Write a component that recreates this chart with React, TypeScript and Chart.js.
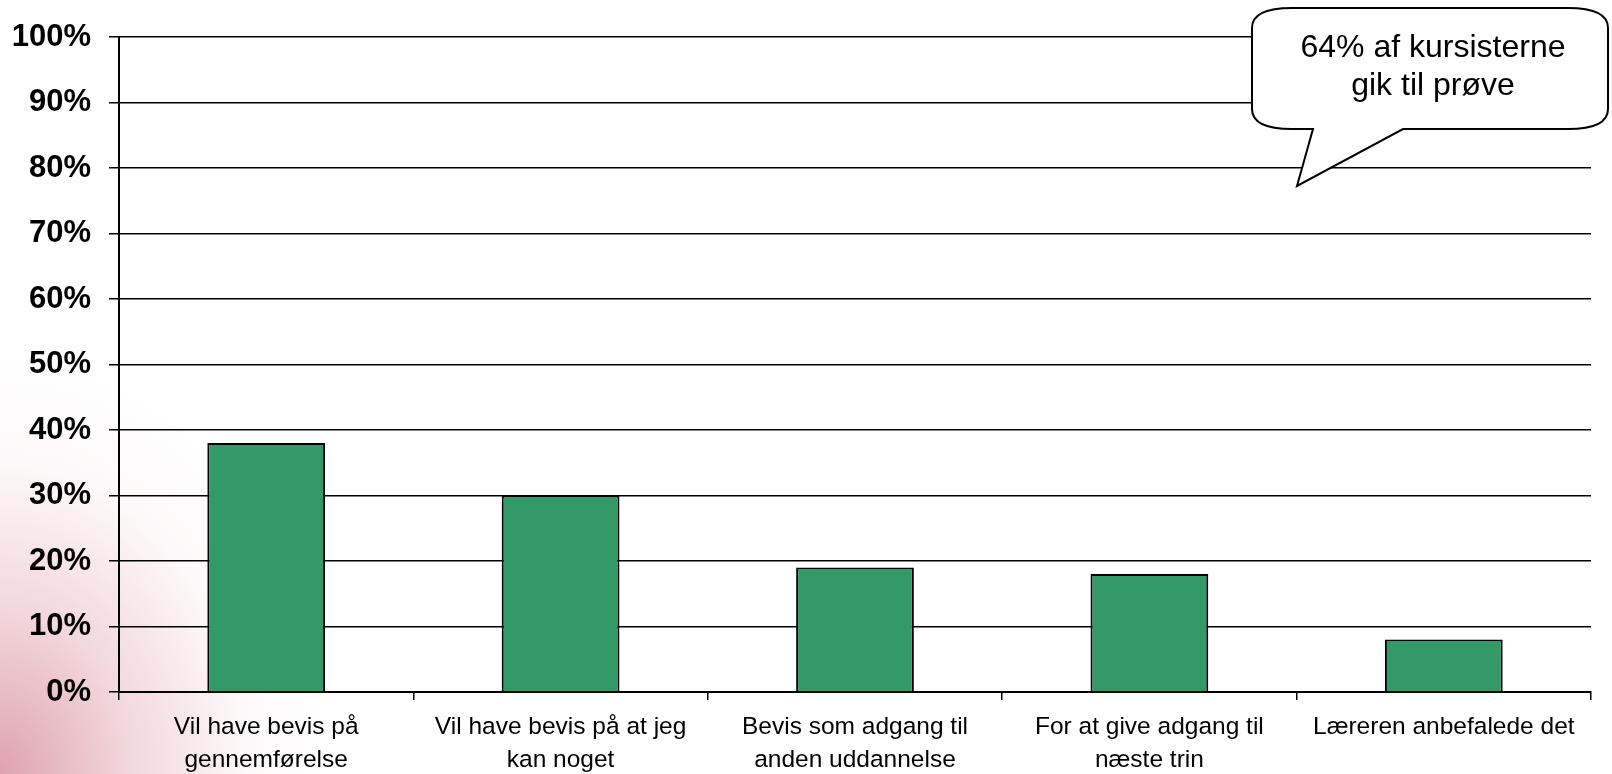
import React, { useEffect, useRef } from "react";
import { Chart, registerables } from "chart.js";

Chart.register(...registerables);

const categories: string[][] = [
  ["Vil have bevis på", "gennemførelse"],
  ["Vil have bevis på at jeg", "kan noget"],
  ["Bevis som adgang til", "anden uddannelse"],
  ["For at give adgang til", "næste trin"],
  ["Læreren anbefalede det"],
];
const values: number[] = [38, 30, 19, 18, 8];
const yTicks: number[] = [0, 10, 20, 30, 40, 50, 60, 70, 80, 90, 100];
const calloutLines: string[] = ["64% af kursisterne", "gik til prøve"];

const FONT = "'Liberation Sans', Arial, sans-serif";

const calloutPlugin = {
  id: "callout",
  afterDraw(chart: any) {
    const ctx = chart.ctx as CanvasRenderingContext2D;
    const L = 1252, T = 8, R = 1608, B = 129, rx = 40, ry = 20;
    ctx.save();
    ctx.beginPath();
    ctx.moveTo(L + rx, T);
    ctx.lineTo(R - rx, T);
    ctx.quadraticCurveTo(R, T, R, T + ry);
    ctx.lineTo(R, B - ry);
    ctx.quadraticCurveTo(R, B, R - rx, B);
    ctx.lineTo(1403, B);
    ctx.lineTo(1297, 186);
    ctx.lineTo(1313, B);
    ctx.lineTo(L + rx, B);
    ctx.quadraticCurveTo(L, B, L, B - ry);
    ctx.lineTo(L, T + ry);
    ctx.quadraticCurveTo(L, T, L + rx, T);
    ctx.closePath();
    ctx.fillStyle = "#ffffff";
    ctx.fill();
    ctx.lineWidth = 2;
    ctx.strokeStyle = "#000000";
    ctx.lineJoin = "miter";
    ctx.stroke();
    ctx.fillStyle = "#000000";
    ctx.font = `32px ${FONT}`;
    ctx.textAlign = "center";
    ctx.textBaseline = "alphabetic";
    ctx.fillText(calloutLines[0], 1433, 57);
    ctx.fillText(calloutLines[1], 1433, 95);
    ctx.restore();
  },
};

export default function App() {
  const ref = useRef<HTMLCanvasElement | null>(null);

  useEffect(() => {
    if (!ref.current) return;
    const chart = new Chart(ref.current, {
      type: "bar",
      data: {
        labels: categories,
        datasets: [
          {
            data: values,
            backgroundColor: "#339966",
            borderColor: "#000000",
            borderWidth: 2,
            barPercentage: 0.4,
            categoryPercentage: 1,
          },
        ],
      },
      options: {
        animation: false,
        responsive: false,
        devicePixelRatio: 1,
        layout: { padding: { top: 37, right: 21, left: 0, bottom: 0 } },
        plugins: {
          legend: { display: false },
          tooltip: { enabled: false },
        },
        scales: {
          x: {
            grid: {
              display: true,
              drawOnChartArea: false,
              drawTicks: true,
              tickLength: 8,
              color: "#000000",
              lineWidth: 1.5,
              offset: true,
            },
            border: { display: true, color: "#000000", width: 2 },
            ticks: {
              color: "#000000",
              font: { family: FONT, size: 24.5, lineHeight: 1.35 },
              padding: 11,
              maxRotation: 0,
              autoSkip: false,
            },
            afterFit: (scale: any) => {
              scale.height = 82;
            },
          },
          y: {
            min: 0,
            max: 100,
            afterBuildTicks: (scale: any) => {
              scale.ticks = yTicks.map((v) => ({ value: v }));
            },
            grid: {
              color: "#000000",
              lineWidth: 1.5,
              tickLength: 10,
              drawTicks: true,
            },
            border: { display: true, color: "#000000", width: 2 },
            ticks: {
              color: "#000000",
              font: { family: FONT, size: 31, weight: "bold" },
              padding: 18,
              callback: (v: any) => `${v}%`,
            },
            afterFit: (scale: any) => {
              scale.width = 119;
            },
          },
        },
      },
      plugins: [calloutPlugin],
    });
    return () => chart.destroy();
  }, []);

  return (
    <div
      style={{
        position: "fixed",
        left: 0,
        top: 0,
        width: 1612,
        height: 774,
        background:
          "radial-gradient(ellipse 330px 420px at 0% 100%, rgba(214,140,152,0.8) 0%, rgba(230,178,186,0.5) 40%, rgba(245,225,228,0.2) 75%, rgba(255,255,255,0) 100%), #ffffff",
      }}
    >
      <canvas ref={ref} width={1612} height={774} style={{ display: "block" }} />
    </div>
  );
}
